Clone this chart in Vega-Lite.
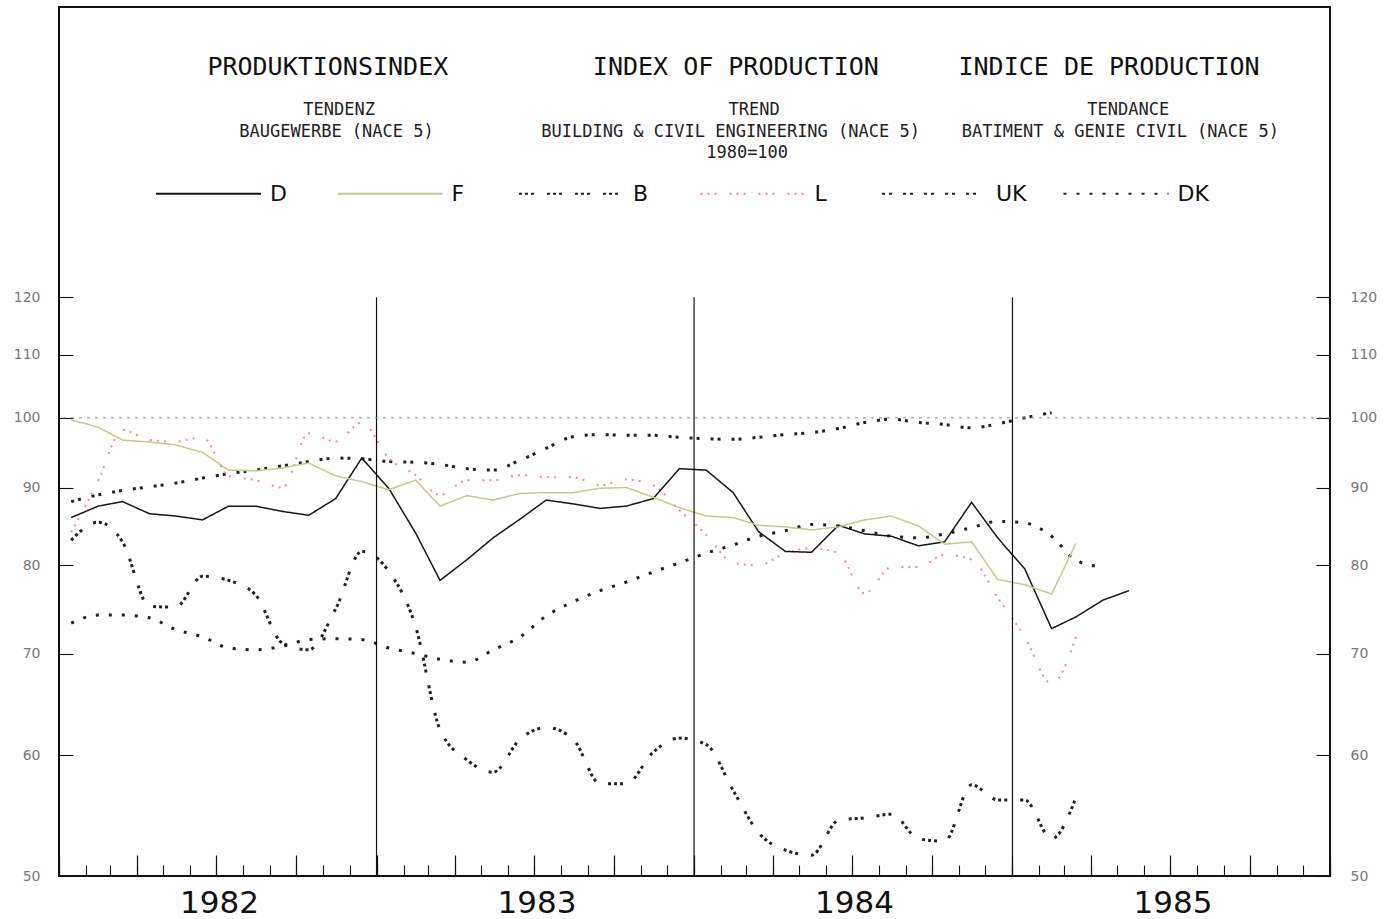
{
"$schema":"https://vega.github.io/schema/vega-lite/v6.json",
"width":1271,"height":869,
"autosize":{"type":"none"},
"padding":{"left":59,"top":7,"right":67,"bottom":43},
"background":"white",
"config":{
 "view":{"stroke":"#111","strokeWidth":2},
 "font":"DejaVu Sans",
 "legend":{"orient":"none","legendX":96,"legendY":133,"direction":"horizontal","columns":6,"gridAlign":"all","symbolType":"stroke","symbolSize":11025,"symbolStrokeWidth":2,"labelFont":"DejaVu Sans","labelFontSize":22,"labelColor":"#111","labelOffset":8,"columnPadding":31.5,"padding":0,"rowPadding":0}
},
"datasets":{
"years":[{"date":"1983-01-01"},{"date":"1984-01-01"},{"date":"1985-01-01"}],
"series":[
{"series":"D","date":"1982-01-15","value":86.0},{"series":"D","date":"1982-02-15","value":87.5},{"series":"D","date":"1982-03-15","value":88.1},{"series":"D","date":"1982-04-15","value":86.5},{"series":"D","date":"1982-05-15","value":86.2},{"series":"D","date":"1982-06-15","value":85.7},{"series":"D","date":"1982-07-15","value":87.5},{"series":"D","date":"1982-08-15","value":87.5},{"series":"D","date":"1982-09-15","value":86.8},{"series":"D","date":"1982-10-15","value":86.3},{"series":"D","date":"1982-11-15","value":88.5},{"series":"D","date":"1982-12-15","value":94.1},
{"series":"D","date":"1983-01-15","value":89.9},{"series":"D","date":"1983-02-15","value":84.0},{"series":"D","date":"1983-03-15","value":78.2},{"series":"D","date":"1983-04-15","value":80.7},{"series":"D","date":"1983-05-15","value":83.4},{"series":"D","date":"1983-06-15","value":85.8},{"series":"D","date":"1983-07-15","value":88.3},{"series":"D","date":"1983-08-15","value":87.8},{"series":"D","date":"1983-09-15","value":87.2},{"series":"D","date":"1983-10-15","value":87.5},{"series":"D","date":"1983-11-15","value":88.5},{"series":"D","date":"1983-12-15","value":92.6},
{"series":"D","date":"1984-01-15","value":92.4},{"series":"D","date":"1984-02-15","value":89.3},{"series":"D","date":"1984-03-15","value":84.2},{"series":"D","date":"1984-04-15","value":81.7},{"series":"D","date":"1984-05-15","value":81.6},{"series":"D","date":"1984-06-15","value":85.0},{"series":"D","date":"1984-07-15","value":83.9},{"series":"D","date":"1984-08-15","value":83.6},{"series":"D","date":"1984-09-15","value":82.4},{"series":"D","date":"1984-10-15","value":82.9},{"series":"D","date":"1984-11-15","value":88.0},{"series":"D","date":"1984-12-15","value":83.4},
{"series":"D","date":"1985-01-15","value":79.6},{"series":"D","date":"1985-02-15","value":72.7},{"series":"D","date":"1985-03-15","value":74.0},{"series":"D","date":"1985-04-15","value":75.9},{"series":"D","date":"1985-05-15","value":77.0},
{"series":"F","date":"1982-01-15","value":99.7},{"series":"F","date":"1982-02-15","value":98.6},{"series":"F","date":"1982-03-15","value":96.7},{"series":"F","date":"1982-04-15","value":96.4},{"series":"F","date":"1982-05-15","value":96.0},{"series":"F","date":"1982-06-15","value":94.9},{"series":"F","date":"1982-07-15","value":92.4},{"series":"F","date":"1982-08-15","value":92.3},{"series":"F","date":"1982-09-15","value":92.7},{"series":"F","date":"1982-10-15","value":93.4},{"series":"F","date":"1982-11-15","value":91.6},{"series":"F","date":"1982-12-15","value":90.8},
{"series":"F","date":"1983-01-15","value":89.7},{"series":"F","date":"1983-02-15","value":91.0},{"series":"F","date":"1983-03-15","value":87.5},{"series":"F","date":"1983-04-15","value":88.9},{"series":"F","date":"1983-05-15","value":88.3},{"series":"F","date":"1983-06-15","value":89.2},{"series":"F","date":"1983-07-15","value":89.3},{"series":"F","date":"1983-08-15","value":89.3},{"series":"F","date":"1983-09-15","value":89.9},{"series":"F","date":"1983-10-15","value":90.0},{"series":"F","date":"1983-11-15","value":88.7},{"series":"F","date":"1983-12-15","value":87.3},
{"series":"F","date":"1984-01-15","value":86.2},{"series":"F","date":"1984-02-15","value":86.0},{"series":"F","date":"1984-03-15","value":85.0},{"series":"F","date":"1984-04-15","value":84.8},{"series":"F","date":"1984-05-15","value":84.4},{"series":"F","date":"1984-06-15","value":84.8},{"series":"F","date":"1984-07-15","value":85.7},{"series":"F","date":"1984-08-15","value":86.2},{"series":"F","date":"1984-09-15","value":84.9},{"series":"F","date":"1984-10-15","value":82.6},{"series":"F","date":"1984-11-15","value":82.9},{"series":"F","date":"1984-12-15","value":78.3},
{"series":"F","date":"1985-01-15","value":77.7},{"series":"F","date":"1985-02-15","value":76.6},{"series":"F","date":"1985-03-15","value":82.7},
{"series":"B","date":"1982-01-15","value":83.1},{"series":"B","date":"1982-02-15","value":85.4},{"series":"B","date":"1982-03-15","value":82.9},{"series":"B","date":"1982-04-15","value":75.2},{"series":"B","date":"1982-05-15","value":75.1},{"series":"B","date":"1982-06-15","value":78.7},{"series":"B","date":"1982-07-15","value":78.2},{"series":"B","date":"1982-08-15","value":76.5},{"series":"B","date":"1982-09-15","value":71.1},{"series":"B","date":"1982-10-15","value":70.4},{"series":"B","date":"1982-11-15","value":74.9},{"series":"B","date":"1982-12-15","value":81.7},
{"series":"B","date":"1983-01-15","value":79.3},{"series":"B","date":"1983-02-15","value":72.9},{"series":"B","date":"1983-03-15","value":62.4},{"series":"B","date":"1983-04-15","value":59.6},{"series":"B","date":"1983-05-15","value":58.5},{"series":"B","date":"1983-06-15","value":61.5},{"series":"B","date":"1983-07-15","value":62.6},{"series":"B","date":"1983-08-15","value":61.5},{"series":"B","date":"1983-09-15","value":57.5},{"series":"B","date":"1983-10-15","value":57.5},{"series":"B","date":"1983-11-15","value":60.3},{"series":"B","date":"1983-12-15","value":61.6},
{"series":"B","date":"1984-01-15","value":61.0},{"series":"B","date":"1984-02-15","value":56.9},{"series":"B","date":"1984-03-15","value":53.4},{"series":"B","date":"1984-04-15","value":52.0},{"series":"B","date":"1984-05-15","value":51.6},{"series":"B","date":"1984-06-15","value":54.4},{"series":"B","date":"1984-07-15","value":54.6},{"series":"B","date":"1984-08-15","value":54.9},{"series":"B","date":"1984-09-15","value":52.9},{"series":"B","date":"1984-10-15","value":52.7},{"series":"B","date":"1984-11-15","value":57.4},{"series":"B","date":"1984-12-15","value":56.1},
{"series":"B","date":"1985-01-15","value":56.1},{"series":"B","date":"1985-02-15","value":52.9},{"series":"B","date":"1985-03-15","value":56.3},
{"series":"L","date":"1982-01-15","value":84.1},{"series":"L","date":"1982-02-15","value":90.9},{"series":"L","date":"1982-03-15","value":98.2},{"series":"L","date":"1982-04-15","value":96.7},{"series":"L","date":"1982-05-15","value":96.5},{"series":"L","date":"1982-06-15","value":97.1},{"series":"L","date":"1982-07-15","value":91.6},{"series":"L","date":"1982-08-15","value":91.0},{"series":"L","date":"1982-09-15","value":90.0},{"series":"L","date":"1982-10-15","value":97.7},{"series":"L","date":"1982-11-15","value":96.5},{"series":"L","date":"1982-12-15","value":99.3},
{"series":"L","date":"1983-01-15","value":94.1},{"series":"L","date":"1983-02-15","value":91.7},{"series":"L","date":"1983-03-15","value":89.0},{"series":"L","date":"1983-04-15","value":91.0},{"series":"L","date":"1983-05-15","value":91.0},{"series":"L","date":"1983-06-15","value":91.7},{"series":"L","date":"1983-07-15","value":91.4},{"series":"L","date":"1983-08-15","value":91.4},{"series":"L","date":"1983-09-15","value":90.3},{"series":"L","date":"1983-10-15","value":91.1},{"series":"L","date":"1983-11-15","value":90.3},{"series":"L","date":"1983-12-15","value":87.0},
{"series":"L","date":"1984-01-15","value":83.8},{"series":"L","date":"1984-02-15","value":80.3},{"series":"L","date":"1984-03-15","value":80.0},{"series":"L","date":"1984-04-15","value":81.5},{"series":"L","date":"1984-05-15","value":82.1},{"series":"L","date":"1984-06-15","value":81.5},{"series":"L","date":"1984-07-15","value":76.7},{"series":"L","date":"1984-08-15","value":79.8},{"series":"L","date":"1984-09-15","value":79.8},{"series":"L","date":"1984-10-15","value":81.3},{"series":"L","date":"1984-11-15","value":80.7},{"series":"L","date":"1984-12-15","value":76.2},
{"series":"L","date":"1985-01-15","value":71.8},{"series":"L","date":"1985-02-15","value":66.9},{"series":"L","date":"1985-03-15","value":71.8},
{"series":"UK","date":"1982-01-15","value":88.1},{"series":"UK","date":"1982-02-15","value":89.0},{"series":"UK","date":"1982-03-15","value":89.6},{"series":"UK","date":"1982-04-15","value":90.1},{"series":"UK","date":"1982-05-15","value":90.6},{"series":"UK","date":"1982-06-15","value":91.3},{"series":"UK","date":"1982-07-15","value":91.9},{"series":"UK","date":"1982-08-15","value":92.4},{"series":"UK","date":"1982-09-15","value":93.0},{"series":"UK","date":"1982-10-15","value":93.6},{"series":"UK","date":"1982-11-15","value":94.1},{"series":"UK","date":"1982-12-15","value":94.0},
{"series":"UK","date":"1983-01-15","value":93.6},{"series":"UK","date":"1983-02-15","value":93.5},{"series":"UK","date":"1983-03-15","value":93.2},{"series":"UK","date":"1983-04-15","value":92.6},{"series":"UK","date":"1983-05-15","value":92.4},{"series":"UK","date":"1983-06-15","value":93.8},{"series":"UK","date":"1983-07-15","value":95.5},{"series":"UK","date":"1983-08-15","value":97.2},{"series":"UK","date":"1983-09-15","value":97.5},{"series":"UK","date":"1983-10-15","value":97.4},{"series":"UK","date":"1983-11-15","value":97.4},{"series":"UK","date":"1983-12-15","value":97.1},
{"series":"UK","date":"1984-01-15","value":96.9},{"series":"UK","date":"1984-02-15","value":96.8},{"series":"UK","date":"1984-03-15","value":97.1},{"series":"UK","date":"1984-04-15","value":97.5},{"series":"UK","date":"1984-05-15","value":97.8},{"series":"UK","date":"1984-06-15","value":98.4},{"series":"UK","date":"1984-07-15","value":99.3},{"series":"UK","date":"1984-08-15","value":99.8},{"series":"UK","date":"1984-09-15","value":99.3},{"series":"UK","date":"1984-10-15","value":99.0},{"series":"UK","date":"1984-11-15","value":98.5},{"series":"UK","date":"1984-12-15","value":99.1},
{"series":"UK","date":"1985-01-15","value":100.0},{"series":"UK","date":"1985-02-15","value":100.8},
{"series":"DK","date":"1982-01-15","value":73.3},{"series":"DK","date":"1982-02-15","value":74.2},{"series":"DK","date":"1982-03-15","value":74.2},{"series":"DK","date":"1982-04-15","value":73.9},{"series":"DK","date":"1982-05-15","value":72.6},{"series":"DK","date":"1982-06-15","value":71.8},{"series":"DK","date":"1982-07-15","value":70.6},{"series":"DK","date":"1982-08-15","value":70.4},{"series":"DK","date":"1982-09-15","value":70.8},{"series":"DK","date":"1982-10-15","value":71.5},{"series":"DK","date":"1982-11-15","value":71.6},{"series":"DK","date":"1982-12-15","value":71.5},
{"series":"DK","date":"1983-01-15","value":70.6},{"series":"DK","date":"1983-02-15","value":70.0},{"series":"DK","date":"1983-03-15","value":69.4},{"series":"DK","date":"1983-04-15","value":69.1},{"series":"DK","date":"1983-05-15","value":70.4},{"series":"DK","date":"1983-06-15","value":71.8},{"series":"DK","date":"1983-07-15","value":74.1},{"series":"DK","date":"1983-08-15","value":75.7},{"series":"DK","date":"1983-09-15","value":77.0},{"series":"DK","date":"1983-10-15","value":78.0},{"series":"DK","date":"1983-11-15","value":79.2},{"series":"DK","date":"1983-12-15","value":80.3},
{"series":"DK","date":"1984-01-15","value":81.5},{"series":"DK","date":"1984-02-15","value":82.5},{"series":"DK","date":"1984-03-15","value":83.6},{"series":"DK","date":"1984-04-15","value":84.3},{"series":"DK","date":"1984-05-15","value":85.1},{"series":"DK","date":"1984-06-15","value":84.9},{"series":"DK","date":"1984-07-15","value":84.3},{"series":"DK","date":"1984-08-15","value":83.6},{"series":"DK","date":"1984-09-15","value":83.4},{"series":"DK","date":"1984-10-15","value":83.9},{"series":"DK","date":"1984-11-15","value":84.7},{"series":"DK","date":"1984-12-15","value":85.5},
{"series":"DK","date":"1985-01-15","value":85.3},{"series":"DK","date":"1985-02-15","value":83.6},{"series":"DK","date":"1985-03-15","value":80.6},{"series":"DK","date":"1985-04-15","value":79.8}
]},
"resolve":{"axis":{"x":"independent","y":"independent"}},
"layer":[
{
 "data":{"name":"series"},
 "transform":[{"filter":{"field":"series","oneOf":["B","UK","DK"]}}],
 "mark":{"type":"line","interpolate":"monotone","strokeWidth":3,"strokeCap":"butt"},
 "encoding":{
  "x":{"field":"date","type":"temporal","scale":{"type":"utc","domain":[{"year":1982,"month":1,"date":1,"utc":true},{"year":1986,"month":1,"date":1,"utc":true}],"nice":false},
   "axis":{"orient":"bottom","tickCount":{"interval":"month","step":1},"tickSize":-11,"tickColor":"#111","tickWidth":1.1,"labels":false,"domain":false,"grid":false,"title":null}},
  "y":{"field":"value","type":"quantitative","scale":{"type":"log","domain":[50,186.2],"nice":false,"zero":false},
   "axis":{"orient":"left","values":[50,60,70,80,90,100,110,120],"format":"d","tickSize":-14,"tickColor":"#111","tickWidth":1.1,"labelPadding":33,"labelFontSize":14,"labelColor":"#777","labelFont":"DejaVu Sans","domain":false,"grid":false,"title":null,"labelFlush":false,"labelOverlap":false,"labelBound":false}},
  "color":{"field":"series","type":"nominal","title":null,"scale":{"domain":["D","F","B","L","UK","DK"],"range":["#151515","#c4c98e","#222222","#ec8aab","#222222","#222222"]}},
  "strokeDash":{"field":"series","type":"nominal","title":null,"scale":{"domain":["D","F","B","L","UK","DK"],"range":[[1,0],[1,0],[3,3,3,3,3,13],[2,5,2,5,2,13],[3,4,3,11],[3,10]]}}
 }
},
{
 "data":{"name":"series"},
 "transform":[{"filter":{"field":"series","oneOf":["L"]}}],
 "mark":{"type":"line","interpolate":"monotone","strokeWidth":2,"strokeCap":"butt"},
 "encoding":{
  "x":{"field":"date","type":"temporal","axis":null},
  "y":{"field":"value","type":"quantitative","axis":null},
  "color":{"field":"series","type":"nominal","title":null,"scale":{"domain":["D","F","B","L","UK","DK"],"range":["#151515","#c4c98e","#222222","#ec8aab","#222222","#222222"]}},
  "strokeDash":{"field":"series","type":"nominal","title":null,"scale":{"domain":["D","F","B","L","UK","DK"],"range":[[1,0],[1,0],[3,3,3,3,3,13],[2,5,2,5,2,13],[3,4,3,11],[3,10]]}}
 }
},
{
 "data":{"name":"series"},
 "transform":[{"filter":{"field":"series","oneOf":["F","D"]}}],
 "mark":{"type":"line","strokeWidth":1.5},
 "encoding":{
  "x":{"field":"date","type":"temporal","axis":null},
  "y":{"field":"value","type":"quantitative","axis":null},
  "color":{"field":"series","type":"nominal","title":null,"scale":{"domain":["D","F","B","L","UK","DK"],"range":["#151515","#c4c98e","#222222","#ec8aab","#222222","#222222"]}},
  "strokeDash":{"field":"series","type":"nominal","title":null,"scale":{"domain":["D","F","B","L","UK","DK"],"range":[[1,0],[1,0],[3,3,3,3,3,13],[2,5,2,5,2,13],[3,4,3,11],[3,10]]}}
 }
},
{
 "data":{"name":"years"},
 "mark":{"type":"rule","color":"#111","strokeWidth":1.2},
 "encoding":{
  "x":{"field":"date","type":"temporal",
   "axis":{"orient":"bottom","tickCount":{"interval":"month","step":3},"tickSize":-21,"tickColor":"#111","tickWidth":1.2,"domain":false,"grid":false,"title":null,"labelExpr":"utcmonth(datum.value) == 0 && utcyear(datum.value) < 1986 ? utcFormat(datum.value, '%Y') : ''","labelOffset":160,"labelAlign":"center","labelPadding":33,"labelFontSize":31,"labelFont":"DejaVu Sans","labelColor":"#111","labelFlush":false,"labelOverlap":false,"labelBound":false}},
  "y":{"datum":120,"type":"quantitative",
   "axis":{"orient":"right","values":[50,60,70,80,90,100,110,120],"format":"d","tickSize":-14,"tickColor":"#111","tickWidth":1.1,"labelPadding":34,"labelFontSize":14,"labelColor":"#777","labelFont":"DejaVu Sans","domain":false,"grid":false,"title":null,"labelFlush":false,"labelOverlap":false,"labelBound":false}},
  "y2":{"datum":50}
 }
},
{
 "data":{"values":[{}]},
 "mark":{"type":"rule","color":"#8a8a8a","strokeWidth":1,"strokeDash":[3,5]},
 "encoding":{"y":{"datum":100,"type":"quantitative","axis":null}}
},
{
 "data":{"values":[{}]},
 "mark":{"type":"text","font":"DejaVu Sans Mono","fontSize":25,"color":"#111","align":"center","baseline":"middle"},
 "encoding":{"x":{"datum":{"year":1982,"month":11,"date":6,"utc":true},"type":"temporal","axis":null},"y":{"datum":170,"type":"quantitative","axis":null},"text":{"value":"PRODUKTIONSINDEX"}}
},
{
 "data":{"values":[{}]},
 "mark":{"type":"text","font":"DejaVu Sans Mono","fontSize":25,"color":"#111","align":"center","baseline":"middle"},
 "encoding":{"x":{"datum":{"year":1984,"month":2,"date":18,"utc":true},"type":"temporal","axis":null},"y":{"datum":170,"type":"quantitative","axis":null},"text":{"value":"INDEX OF PRODUCTION"}}
},
{
 "data":{"values":[{}]},
 "mark":{"type":"text","font":"DejaVu Sans Mono","fontSize":25,"color":"#111","align":"center","baseline":"middle"},
 "encoding":{"x":{"datum":{"year":1985,"month":4,"date":22,"utc":true},"type":"temporal","axis":null},"y":{"datum":170,"type":"quantitative","axis":null},"text":{"value":"INDICE DE PRODUCTION"}}
},
{
 "data":{"values":[{}]},
 "mark":{"type":"text","font":"DejaVu Sans Mono","fontSize":17,"color":"#222","align":"center","baseline":"middle"},
 "encoding":{"x":{"datum":{"year":1982,"month":11,"date":19,"utc":true},"type":"temporal","axis":null},"y":{"datum":159.3,"type":"quantitative","axis":null},"text":{"value":"TENDENZ"}}
},
{
 "data":{"values":[{}]},
 "mark":{"type":"text","font":"DejaVu Sans Mono","fontSize":17,"color":"#222","align":"center","baseline":"middle"},
 "encoding":{"x":{"datum":{"year":1982,"month":11,"date":16,"utc":true},"type":"temporal","axis":null},"y":{"datum":154.1,"type":"quantitative","axis":null},"text":{"value":"BAUGEWERBE (NACE 5)"}}
},
{
 "data":{"values":[{}]},
 "mark":{"type":"text","font":"DejaVu Sans Mono","fontSize":17,"color":"#222","align":"center","baseline":"middle"},
 "encoding":{"x":{"datum":{"year":1984,"month":3,"date":10,"utc":true},"type":"temporal","axis":null},"y":{"datum":159.3,"type":"quantitative","axis":null},"text":{"value":"TREND"}}
},
{
 "data":{"values":[{}]},
 "mark":{"type":"text","font":"DejaVu Sans Mono","fontSize":17,"color":"#222","align":"center","baseline":"middle"},
 "encoding":{"x":{"datum":{"year":1984,"month":2,"date":12,"utc":true},"type":"temporal","axis":null},"y":{"datum":154.1,"type":"quantitative","axis":null},"text":{"value":"BUILDING & CIVIL ENGINEERING (NACE 5)"}}
},
{
 "data":{"values":[{}]},
 "mark":{"type":"text","font":"DejaVu Sans Mono","fontSize":17,"color":"#222","align":"center","baseline":"middle"},
 "encoding":{"x":{"datum":{"year":1984,"month":3,"date":2,"utc":true},"type":"temporal","axis":null},"y":{"datum":149.3,"type":"quantitative","axis":null},"text":{"value":"1980=100"}}
},
{
 "data":{"values":[{}]},
 "mark":{"type":"text","font":"DejaVu Sans Mono","fontSize":17,"color":"#222","align":"center","baseline":"middle"},
 "encoding":{"x":{"datum":{"year":1985,"month":5,"date":14,"utc":true},"type":"temporal","axis":null},"y":{"datum":159.3,"type":"quantitative","axis":null},"text":{"value":"TENDANCE"}}
},
{
 "data":{"values":[{}]},
 "mark":{"type":"text","font":"DejaVu Sans Mono","fontSize":17,"color":"#222","align":"center","baseline":"middle"},
 "encoding":{"x":{"datum":{"year":1985,"month":5,"date":5,"utc":true},"type":"temporal","axis":null},"y":{"datum":154.1,"type":"quantitative","axis":null},"text":{"value":"BATIMENT & GENIE CIVIL (NACE 5)"}}
}
]
}
